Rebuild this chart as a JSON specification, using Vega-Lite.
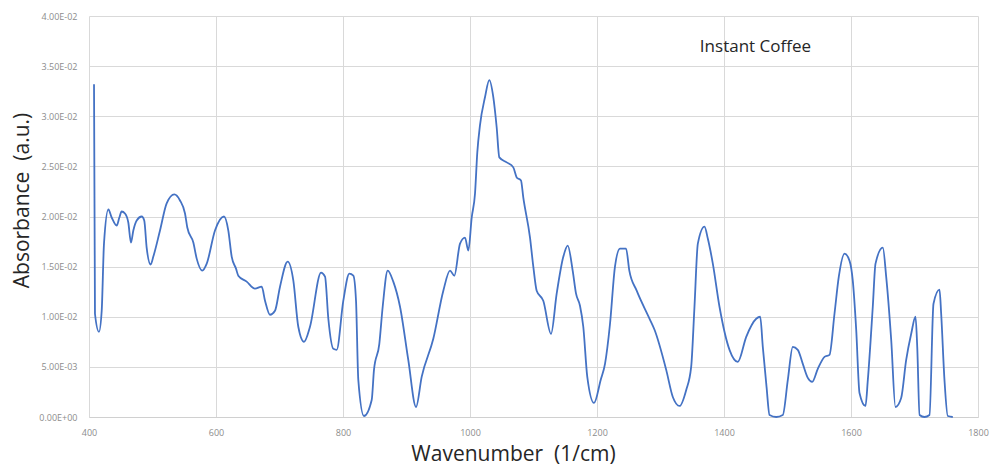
{
  "$schema": "https://vega.github.io/schema/vega-lite/v6.json",
  "width": 889,
  "height": 401,
  "autosize": {"type": "none"},
  "padding": {"left": 89, "top": 16, "right": 16, "bottom": 55},
  "background": "white",
  "config": {"view": {"stroke": null}, "font": "Open Sans"},
  "layer": [
    {
      "data": {"values": [
        {"wavenumber": 407.9, "absorbance": 0.0332},
        {"wavenumber": 409.4, "absorbance": 0.0103},
        {"wavenumber": 415.7, "absorbance": 0.0085},
        {"wavenumber": 420, "absorbance": 0.0106},
        {"wavenumber": 423.6, "absorbance": 0.0173},
        {"wavenumber": 430.5, "absorbance": 0.0207},
        {"wavenumber": 435.7, "absorbance": 0.0199},
        {"wavenumber": 443.6, "absorbance": 0.0191},
        {"wavenumber": 447.8, "absorbance": 0.0199},
        {"wavenumber": 451.4, "absorbance": 0.0205},
        {"wavenumber": 456.7, "absorbance": 0.0203},
        {"wavenumber": 461.9, "absorbance": 0.0194},
        {"wavenumber": 466.1, "absorbance": 0.0174},
        {"wavenumber": 469.8, "absorbance": 0.0186},
        {"wavenumber": 475.1, "absorbance": 0.0196},
        {"wavenumber": 483, "absorbance": 0.02},
        {"wavenumber": 487, "absorbance": 0.0196},
        {"wavenumber": 490.8, "absorbance": 0.0169},
        {"wavenumber": 497.1, "absorbance": 0.0152},
        {"wavenumber": 501.3, "absorbance": 0.016},
        {"wavenumber": 511.8, "absorbance": 0.0186},
        {"wavenumber": 522.3, "absorbance": 0.0213},
        {"wavenumber": 534.4, "absorbance": 0.0222},
        {"wavenumber": 543.3, "absorbance": 0.0216},
        {"wavenumber": 551.2, "absorbance": 0.0203},
        {"wavenumber": 554.8, "absorbance": 0.0189},
        {"wavenumber": 564.3, "absorbance": 0.0174},
        {"wavenumber": 569.6, "absorbance": 0.0158},
        {"wavenumber": 578.4, "absorbance": 0.0146},
        {"wavenumber": 585.4, "absorbance": 0.0153},
        {"wavenumber": 598.4, "absorbance": 0.0186},
        {"wavenumber": 612.6, "absorbance": 0.02},
        {"wavenumber": 619.4, "absorbance": 0.0186},
        {"wavenumber": 624.7, "absorbance": 0.016},
        {"wavenumber": 631.5, "absorbance": 0.0148},
        {"wavenumber": 635.1, "absorbance": 0.0141},
        {"wavenumber": 648.3, "absorbance": 0.0135},
        {"wavenumber": 661.4, "absorbance": 0.0128},
        {"wavenumber": 672, "absorbance": 0.013},
        {"wavenumber": 677.2, "absorbance": 0.0116},
        {"wavenumber": 685, "absorbance": 0.0102},
        {"wavenumber": 692.9, "absorbance": 0.0106},
        {"wavenumber": 700.8, "absorbance": 0.013},
        {"wavenumber": 712.9, "absorbance": 0.0155},
        {"wavenumber": 721.8, "absorbance": 0.0136},
        {"wavenumber": 729.6, "absorbance": 0.009},
        {"wavenumber": 738.6, "absorbance": 0.0075},
        {"wavenumber": 748, "absorbance": 0.009},
        {"wavenumber": 765.4, "absorbance": 0.0144},
        {"wavenumber": 771.7, "absorbance": 0.014},
        {"wavenumber": 776.9, "absorbance": 0.0098},
        {"wavenumber": 784.8, "absorbance": 0.0068},
        {"wavenumber": 790, "absorbance": 0.0067},
        {"wavenumber": 800.5, "absorbance": 0.0116},
        {"wavenumber": 810, "absorbance": 0.0143},
        {"wavenumber": 816.3, "absorbance": 0.0141},
        {"wavenumber": 820.5, "absorbance": 0.0116},
        {"wavenumber": 824.1, "absorbance": 0.0037},
        {"wavenumber": 833, "absorbance": 0.0001},
        {"wavenumber": 845.2, "absorbance": 0.0017},
        {"wavenumber": 848.8, "absorbance": 0.0047},
        {"wavenumber": 857.2, "absorbance": 0.0073},
        {"wavenumber": 862.5, "absorbance": 0.011},
        {"wavenumber": 870.4, "absorbance": 0.0146},
        {"wavenumber": 879.2, "absorbance": 0.0135},
        {"wavenumber": 889.8, "absorbance": 0.011},
        {"wavenumber": 902.8, "absorbance": 0.0057},
        {"wavenumber": 915, "absorbance": 0.001},
        {"wavenumber": 923.9, "absorbance": 0.004},
        {"wavenumber": 942.2, "absorbance": 0.0078},
        {"wavenumber": 958, "absorbance": 0.0126},
        {"wavenumber": 968.5, "absorbance": 0.0146},
        {"wavenumber": 975.3, "absorbance": 0.0141},
        {"wavenumber": 984.3, "absorbance": 0.0173},
        {"wavenumber": 992.1, "absorbance": 0.0179},
        {"wavenumber": 997.4, "absorbance": 0.0166},
        {"wavenumber": 1002.7, "absorbance": 0.0199},
        {"wavenumber": 1007.9, "absorbance": 0.0223},
        {"wavenumber": 1011.5, "absorbance": 0.0264},
        {"wavenumber": 1015.7, "absorbance": 0.0291},
        {"wavenumber": 1023.6, "absorbance": 0.0319},
        {"wavenumber": 1030.4, "absorbance": 0.0336},
        {"wavenumber": 1036.7, "absorbance": 0.0319},
        {"wavenumber": 1042, "absorbance": 0.0289},
        {"wavenumber": 1046.2, "absorbance": 0.0259},
        {"wavenumber": 1057.8, "absorbance": 0.0254},
        {"wavenumber": 1068.2, "absorbance": 0.0249},
        {"wavenumber": 1073.5, "absorbance": 0.0239},
        {"wavenumber": 1080.3, "absorbance": 0.0236},
        {"wavenumber": 1083.9, "absorbance": 0.0219},
        {"wavenumber": 1094.5, "absorbance": 0.0179},
        {"wavenumber": 1099.7, "absorbance": 0.015},
        {"wavenumber": 1105, "absorbance": 0.0126},
        {"wavenumber": 1115.4, "absorbance": 0.0116},
        {"wavenumber": 1127.6, "absorbance": 0.0083},
        {"wavenumber": 1136.5, "absorbance": 0.0123},
        {"wavenumber": 1147, "absorbance": 0.016},
        {"wavenumber": 1153.9, "absorbance": 0.0171},
        {"wavenumber": 1161.7, "absorbance": 0.0146},
        {"wavenumber": 1167, "absorbance": 0.0123},
        {"wavenumber": 1173.2, "absorbance": 0.0111},
        {"wavenumber": 1178.4, "absorbance": 0.009},
        {"wavenumber": 1184.7, "absorbance": 0.004},
        {"wavenumber": 1195.3, "absorbance": 0.0014},
        {"wavenumber": 1205.8, "absorbance": 0.0037},
        {"wavenumber": 1212.6, "absorbance": 0.0053},
        {"wavenumber": 1220.5, "absorbance": 0.0093},
        {"wavenumber": 1228.3, "absorbance": 0.015},
        {"wavenumber": 1236.2, "absorbance": 0.0168},
        {"wavenumber": 1245.7, "absorbance": 0.0168},
        {"wavenumber": 1250.9, "absorbance": 0.0146},
        {"wavenumber": 1262.5, "absorbance": 0.0126},
        {"wavenumber": 1283.5, "absorbance": 0.0097},
        {"wavenumber": 1290.6, "absorbance": 0.0087},
        {"wavenumber": 1309, "absorbance": 0.0047},
        {"wavenumber": 1319.4, "absorbance": 0.002},
        {"wavenumber": 1330, "absorbance": 0.0011},
        {"wavenumber": 1340.5, "absorbance": 0.0027},
        {"wavenumber": 1348.3, "absorbance": 0.005},
        {"wavenumber": 1353.5, "absorbance": 0.011},
        {"wavenumber": 1358.8, "absorbance": 0.0173},
        {"wavenumber": 1369.3, "absorbance": 0.019},
        {"wavenumber": 1374.5, "absorbance": 0.0178},
        {"wavenumber": 1382.4, "absorbance": 0.0153},
        {"wavenumber": 1392.9, "absorbance": 0.011},
        {"wavenumber": 1408.7, "absorbance": 0.0067},
        {"wavenumber": 1421.7, "absorbance": 0.0055},
        {"wavenumber": 1435, "absorbance": 0.008},
        {"wavenumber": 1450.7, "absorbance": 0.0098},
        {"wavenumber": 1457, "absorbance": 0.01},
        {"wavenumber": 1461.1, "absorbance": 0.007},
        {"wavenumber": 1467, "absorbance": 0.003},
        {"wavenumber": 1471.7, "absorbance": 0.0002},
        {"wavenumber": 1482.2, "absorbance": 0},
        {"wavenumber": 1492.6, "absorbance": 0.0002},
        {"wavenumber": 1500.5, "absorbance": 0.0037},
        {"wavenumber": 1508.3, "absorbance": 0.007},
        {"wavenumber": 1516.2, "absorbance": 0.0067},
        {"wavenumber": 1524.1, "absorbance": 0.0053},
        {"wavenumber": 1532, "absorbance": 0.0039},
        {"wavenumber": 1538.9, "absorbance": 0.0035},
        {"wavenumber": 1547.7, "absorbance": 0.0048},
        {"wavenumber": 1558.3, "absorbance": 0.006},
        {"wavenumber": 1566.1, "absorbance": 0.0062},
        {"wavenumber": 1574, "absorbance": 0.0103},
        {"wavenumber": 1580.8, "absorbance": 0.014},
        {"wavenumber": 1589.8, "absorbance": 0.0163},
        {"wavenumber": 1597.6, "absorbance": 0.0156},
        {"wavenumber": 1602.8, "absorbance": 0.0136},
        {"wavenumber": 1608.2, "absorbance": 0.0087},
        {"wavenumber": 1613.4, "absorbance": 0.0024},
        {"wavenumber": 1622.8, "absorbance": 0.0011},
        {"wavenumber": 1626.5, "absorbance": 0.0037},
        {"wavenumber": 1634.3, "absorbance": 0.011},
        {"wavenumber": 1638.6, "absorbance": 0.0153},
        {"wavenumber": 1650.1, "absorbance": 0.0169},
        {"wavenumber": 1655.4, "absorbance": 0.014},
        {"wavenumber": 1663.3, "absorbance": 0.0077},
        {"wavenumber": 1670, "absorbance": 0.001},
        {"wavenumber": 1679, "absorbance": 0.0019},
        {"wavenumber": 1686.9, "absorbance": 0.0057},
        {"wavenumber": 1694.8, "absorbance": 0.0083},
        {"wavenumber": 1701.6, "absorbance": 0.01},
        {"wavenumber": 1704.3, "absorbance": 0.007},
        {"wavenumber": 1708, "absorbance": 0.0002},
        {"wavenumber": 1715.7, "absorbance": 0},
        {"wavenumber": 1723.6, "absorbance": 0.0002},
        {"wavenumber": 1729.9, "absorbance": 0.0113},
        {"wavenumber": 1739.4, "absorbance": 0.0127},
        {"wavenumber": 1742, "absorbance": 0.0103},
        {"wavenumber": 1747.2, "absorbance": 0.0037},
        {"wavenumber": 1752.4, "absorbance": 0.0001},
        {"wavenumber": 1760.3, "absorbance": 0}
      ]},
      "mark": {"type": "line", "color": "#4472C4", "strokeWidth": 1.8, "interpolate": "monotone"},
      "encoding": {
        "x": {
          "field": "wavenumber", "type": "quantitative",
          "scale": {"domain": [400, 1800], "nice": false},
          "axis": {
            "values": [400, 600, 800, 1000, 1200, 1400, 1600, 1800],
            "format": "d",
            "labelFlush": false, "labelOverlap": false,
            "labelFontSize": 9, "labelColor": "#8c8c8c", "labelPadding": 11,
            "tickSize": 0, "domainColor": "#d0d0d0",
            "gridColor": "#d9d9d9",
            "title": "Wavenumber\u00a0\u00a0(1/cm)", "titleFontSize": 21, "titleFontWeight": "normal",
            "titleColor": "#262626", "titleX": 424, "titleY": 43, "titleBaseline": "alphabetic", "titleAlign": "center"
          }
        },
        "y": {
          "field": "absorbance", "type": "quantitative",
          "scale": {"domain": [0, 0.04], "nice": false},
          "axis": {
            "values": [0, 0.005, 0.01, 0.015, 0.02, 0.025, 0.03, 0.035, 0.04],
            "labelExpr": "datum.value == 0 ? '0.00E+00' : (datum.value < 0.0099 ? format(datum.value * 1000, '.2f') + 'E-03' : format(datum.value * 100, '.2f') + 'E-02')",
            "labelFlush": false, "labelOverlap": false,
            "labelFontSize": 9, "labelColor": "#8c8c8c", "labelPadding": 12,
            "tickSize": 0, "domain": false,
            "gridColor": "#d9d9d9",
            "title": "Absorbance\u00a0\u00a0(a.u.)", "titleFontSize": 21, "titleFontWeight": "normal",
            "titleColor": "#262626", "titleX": -67, "titleY": 184, "titleAngle": -90, "titleAlign": "center", "titleBaseline": "middle"
          }
        }
      }
    },
    {
      "data": {"values": [{"label": "Instant Coffee"}]},
      "mark": {"type": "text", "fontSize": 17, "align": "left", "baseline": "middle", "color": "#262626", "font": "Open Sans"},
      "encoding": {
        "x": {"datum": 1362, "type": "quantitative"},
        "y": {"datum": 0.0369, "type": "quantitative"},
        "text": {"field": "label"}
      }
    }
  ]
}
